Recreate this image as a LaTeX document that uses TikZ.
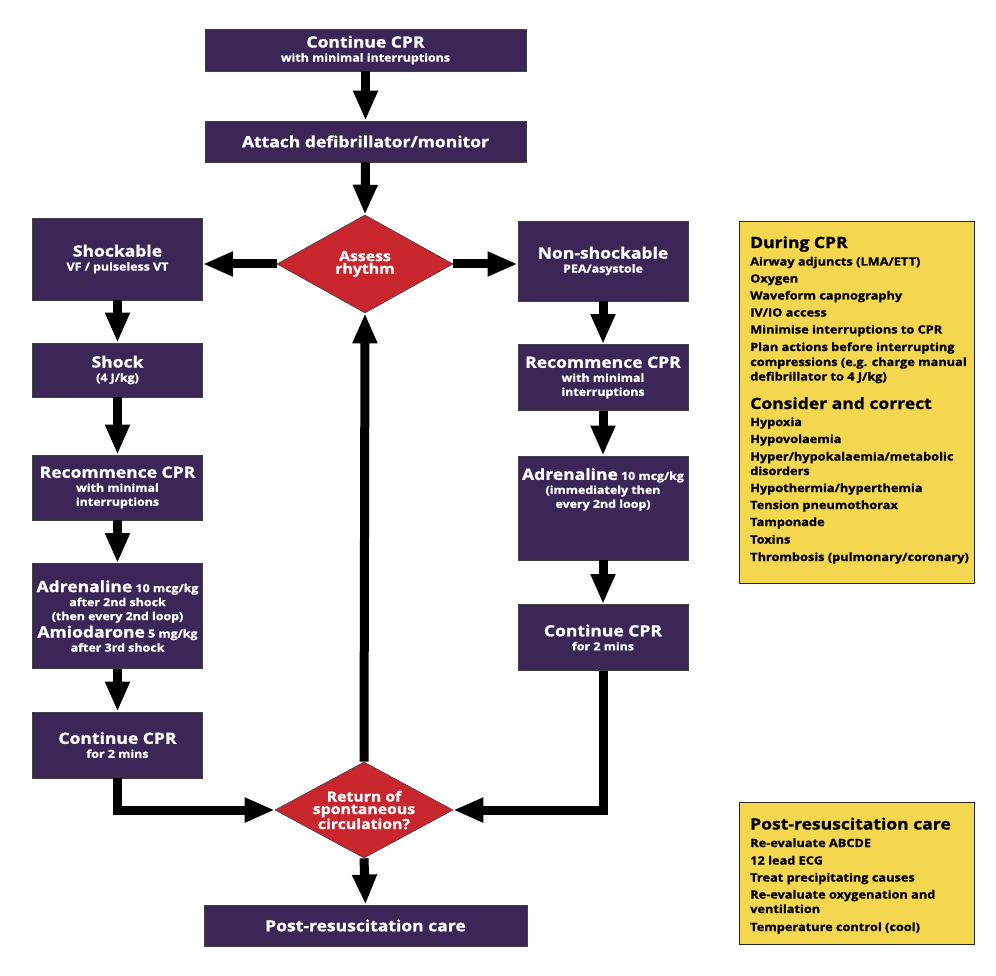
\documentclass[tikz,border=0pt]{standalone}
\usepackage{fontspec}
\setmainfont{Open Sans}[BoldFeatures={FakeStretch=1.13,FakeBold=1.2}]
\usetikzlibrary{arrows.meta,shapes.geometric}
\definecolor{purp}{HTML}{3C2657}
\definecolor{roscred}{HTML}{C9252D}
\definecolor{yel}{HTML}{F4D64F}
\newcommand{\bigT}[1]{{\fontsize{15.5}{17}\selectfont #1}}
\begin{document}
\begin{tikzpicture}[x=1pt,y=-1pt,
  box/.style={draw=black!75, line width=0.8pt, fill=purp, text=white,
    font=\bfseries\fontsize{11}{14}\selectfont, align=center, inner sep=0pt},
  dia/.style={diamond, aspect=1.85, draw=black!75, line width=0.6pt, fill=roscred, text=white,
    align=center, inner sep=0pt, font=\bfseries\fontsize{14}{12.5}\selectfont},
  flow/.style={line width=9pt, -{Triangle[width=23pt,length=30pt]}},
  info/.style={draw=black!85, line width=0.8pt, fill=yel, inner sep=0pt},
  itm/.style={anchor=base west, inner sep=0pt, font=\bfseries\fontsize{11.3}{13}\selectfont},
  hdr/.style={anchor=base west, inner sep=0pt, font=\bfseries\fontsize{15.5}{17}\selectfont}
]
\fill[white] (0,0) rectangle (996,976);
\useasboundingbox (0,0) rectangle (996,976);

% main column
\node[box, minimum width=321pt, minimum height=42pt] (cpr1) at (365.5,50)
  {\bigT{Continue CPR}\\with minimal interruptions};
\node[box, minimum width=321pt, minimum height=41pt] (attach) at (365.5,141.5)
  {\bigT{Attach defibrillator/monitor}};
\node[dia, minimum width=176pt, minimum height=98pt] (assess) at (365,264)
  {Assess\\rhythm};

% left column
\node[box, minimum width=170pt, minimum height=82pt] (shk) at (117.5,259)
  {\bigT{Shockable}\\VF / pulseless VT};
\node[box, minimum width=170pt, minimum height=54pt] (shock) at (117.5,370)
  {\bigT{Shock}\\(4 J/kg)};
\node[box, minimum width=170pt, minimum height=65pt] (lrec) at (117.5,487.5)
  {\bigT{Recommence CPR}\\with minimal\\interruptions};
\node[box, minimum width=170pt, minimum height=105pt] (ladr) at (117.5,616)
  {\bigT{Adrenaline} 10 mcg/kg\\after 2nd shock\\(then every 2nd loop)\\[2pt]\bigT{Amiodarone} 5 mg/kg\\after 3rd shock};
\node[box, minimum width=170pt, minimum height=66pt] (lcont) at (117.5,745)
  {\bigT{Continue CPR}\\for 2 mins};

% right column
\node[box, minimum width=170pt, minimum height=80pt] (nshk) at (603,261)
  {\bigT{Non-shockable}\\PEA/asystole};
\node[box, minimum width=170pt, minimum height=66pt] (rrec) at (603,377.5)
  {\bigT{Recommence CPR}\\with minimal\\interruptions};
\node[box, minimum width=170pt, minimum height=104pt] (radr) at (603,508)
  {\bigT{Adrenaline} 10 mcg/kg\\(immediately then\\every 2nd loop)\\[26pt]};
\node[box, minimum width=170pt, minimum height=66pt] (rcont) at (603,637.5)
  {\bigT{Continue CPR}\\for 2 mins};

% bottom
\node[dia, minimum width=178pt, minimum height=96pt] (rosc) at (364,810)
  {Return of\\spontaneous\\circulation?};
\node[box, minimum width=323pt, minimum height=41pt] (post) at (365.5,925.5)
  {\bigT{Post-resuscitation care}};

% connectors
\draw[flow] (cpr1.south) -- (attach.north);
\draw[flow] (attach.south) -- (assess.north);
\draw[flow] (assess.west) -- (assess.west -| shk.east);
\draw[flow] (assess.east) -- (assess.east -| nshk.west);
\draw[flow] (shk.south) -- (shock.north);
\draw[flow] (shock.south) -- (lrec.north);
\draw[flow] (lrec.south) -- (ladr.north);
\draw[flow] (ladr.south) -- (lcont.north);
\draw[flow] (nshk.south) -- (rrec.north);
\draw[flow] (rrec.south) -- (radr.north);
\draw[flow] (radr.south) -- (rcont.north);
\draw[flow] (lcont.south) |- (rosc.west);
\draw[flow] (rcont.south) |- (rosc.east);
\draw[flow] (rosc.north) -- (assess.south);
\draw[flow] (rosc.south) -- (post.north);

% During CPR info box
\node[info, minimum width=235pt, minimum height=362pt] (dur) at (856.5,402) {};
\node[hdr] (durh) at (750,248) {During CPR};
\foreach \yy/\tt [count=\i] in {
  265.5/{Airway adjuncts (LMA/ETT)},
  282.5/{Oxygen},
  299.5/{Waveform capnography},
  316.5/{IV/IO access},
  333.5/{Minimise interruptions to CPR},
  351/{Plan actions before interrupting},
  366/{compressions (e.g. charge manual},
  380.5/{defibrillator to 4 J/kg)}}
  \node[itm] (dl\i) at (750,\yy) {\tt};
\node[hdr] (conh) at (750,409) {Consider and correct};
\foreach \yy/\tt [count=\i] in {
  426/{Hypoxia},
  443/{Hypovolaemia},
  460.5/{Hyper/hypokalaemia/metabolic},
  475/{disorders},
  492/{Hypothermia/hyperthemia},
  509/{Tension pneumothorax},
  526/{Tamponade},
  543.5/{Toxins},
  561/{Thrombosis (pulmonary/coronary)}}
  \node[itm] (cl\i) at (750,\yy) {\tt};

% Post-resuscitation info box
\node[info, minimum width=235pt, minimum height=142pt] (pcare) at (856.5,873) {};
\node[hdr] (pch) at (750,829.5) {Post-resuscitation care};
\foreach \yy/\tt [count=\i] in {
  847/{Re-evaluate ABCDE},
  864.5/{12 lead ECG},
  881.5/{Treat precipitating causes},
  898.5/{Re-evaluate oxygenation and},
  913/{ventilation},
  931/{Temperature control (cool)}}
  \node[itm] (pl\i) at (750,\yy) {\tt};
\end{tikzpicture}
\end{document}
